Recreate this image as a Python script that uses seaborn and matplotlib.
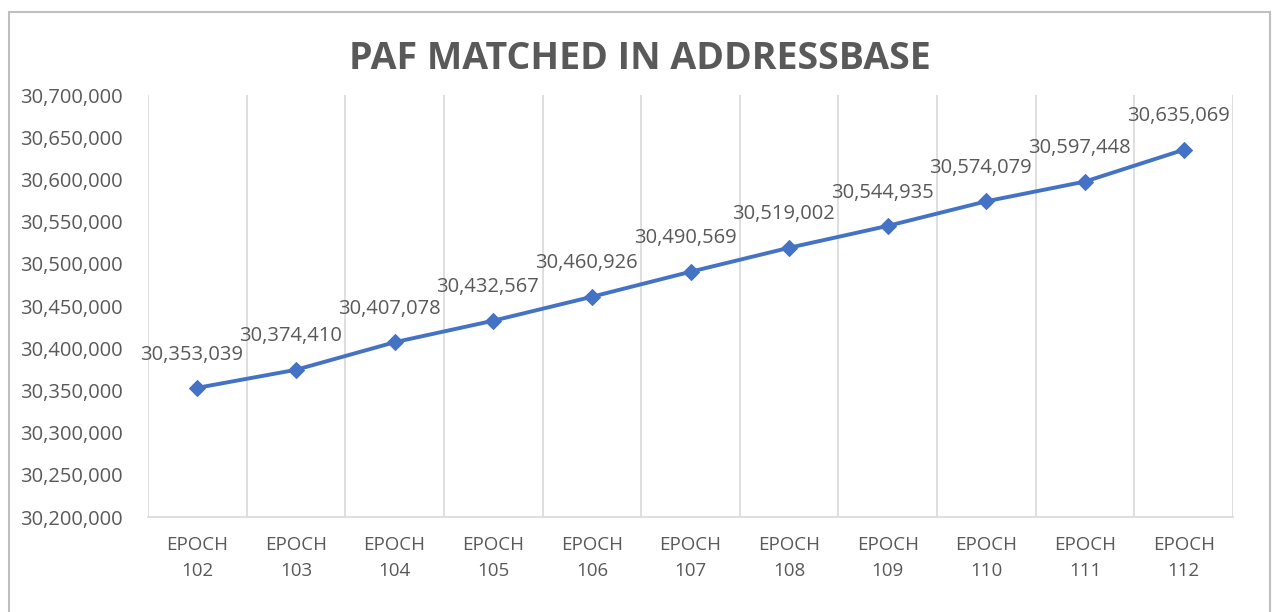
import matplotlib
matplotlib.use("Agg")
import matplotlib.pyplot as plt
import matplotlib.ticker as mticker
import seaborn as sns
import pandas as pd
from matplotlib.patches import Rectangle

# Data
epochs = ["102", "103", "104", "105", "106", "107", "108", "109", "110", "111", "112"]
paf_matched = [30353039, 30374410, 30407078, 30432567, 30460926, 30490569,
               30519002, 30544935, 30574079, 30597448, 30635069]
y_ticks = list(range(30200000, 30700001, 50000))

df = pd.DataFrame({"epoch": ["EPOCH\n" + e for e in epochs], "matched": paf_matched})

sns.set_theme(style="white")
plt.rcParams['font.family'] = ['Open Sans', 'DejaVu Sans']

text_grey = '#595959'
line_blue = '#4472C4'
grid_grey = '#D9D9D9'

fig = plt.figure(figsize=(12.72, 6.12), dpi=100)
ax = fig.add_axes([148 / 1272, 1 - 517 / 612, (1233 - 148) / 1272, (517 - 95) / 612])

sns.lineplot(data=df, x="epoch", y="matched", ax=ax, color=line_blue, linewidth=2.8,
             marker="D", markersize=8.5, markeredgecolor=line_blue, sort=False)

ax.set_xlim(-0.5, len(epochs) - 0.5)
ax.set_ylim(y_ticks[0], y_ticks[-1])
ax.set_yticks(y_ticks)
ax.yaxis.set_major_formatter(mticker.FuncFormatter(lambda v, p: f"{int(v):,}"))

# vertical gridlines on category boundaries
ax.set_xticks([i - 0.5 for i in range(len(epochs) + 1)], minor=True)
ax.grid(which='minor', axis='x', color=grid_grey, linewidth=1.2)
ax.grid(which='major', visible=False)
ax.tick_params(which='both', length=0)
ax.tick_params(axis='y', pad=18, labelsize=14.5, labelcolor=text_grey)
ax.tick_params(axis='x', pad=14, labelsize=13.5, labelcolor=text_grey)
for lbl in ax.get_xticklabels():
    lbl.set_linespacing(1.55)

for side in ['top', 'right', 'left']:
    ax.spines[side].set_visible(False)
ax.spines['bottom'].set_color(grid_grey)
ax.spines['bottom'].set_linewidth(1.2)

ax.set_xlabel("")
ax.set_ylabel("")

for i, v in enumerate(paf_matched):
    ax.annotate(f"{v:,}", (i, v), xytext=(-4, 24), textcoords='offset points',
                ha='center', va='center', fontsize=14.5, color=text_grey)

fig.text(0.503, 1 - 59 / 612, "PAF MATCHED IN ADDRESSBASE", ha='center', va='center',
         fontsize=27, fontweight='bold', color=text_grey)

# outer chart frame
fig.patches.append(Rectangle((9 / 1272, -0.05), (1270 - 9) / 1272, 1.05 - 12 / 612,
                             transform=fig.transFigure, fill=False,
                             edgecolor='#BFBFBF', linewidth=1.5))

fig.savefig("out.png", dpi=100)
